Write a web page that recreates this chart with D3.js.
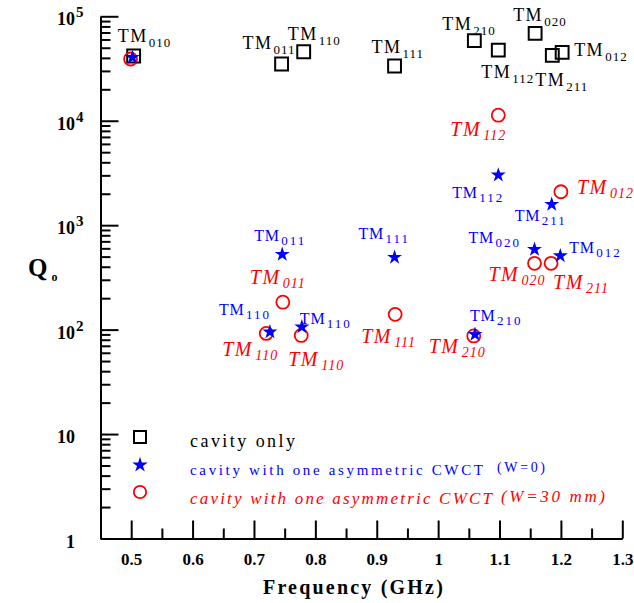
<!DOCTYPE html>
<html>
<head>
<meta charset="utf-8">
<script src="https://cdn.jsdelivr.net/npm/d3@7"></script>
<style>
  body { margin: 0; background: #fff; }
  svg text { font-family: "Liberation Serif", "Times New Roman", Times, serif; }
</style>
</head>
<body>
<div id="chart"></div>
<script>
// cavity only
const cavityModes = ["010", "011", "110", "111", "210", "112", "020", "211", "012"];
const cavityFreq = [0.504, 0.745, 0.781, 0.929, 1.059, 1.098, 1.158, 1.186, 1.202];
const cavityQ = [41700, 34900, 45800, 33400, 58400, 47500, 68700, 42300, 45200];

// cavity with one asymmetric CWCT, W = 0
const w0Modes = ["010", "011", "110", "110", "111", "210", "112", "020", "211", "012"];
const w0Freq = [0.502, 0.746, 0.726, 0.778, 0.929, 1.060, 1.098, 1.157, 1.185, 1.199];
const w0Q = [40400, 525, 95, 106, 492, 90, 3020, 586, 1580, 509];

// cavity with one asymmetric CWCT, W = 30 mm
const w30Modes = ["010", "011", "110", "110", "111", "210", "112", "020", "211", "012"];
const w30Freq = [0.499, 0.747, 0.720, 0.777, 0.930, 1.058, 1.098, 1.157, 1.184, 1.200];
const w30Q = [39000, 183, 92, 88, 140, 87, 11300, 431, 431, 2090];

const xTicks = [0.5, 0.6, 0.7, 0.8, 0.9, 1.0, 1.1, 1.2, 1.3];
const yDecades = [1, 10, 100, 1000, 10000, 100000];
const yTickText = [["1", ""], ["10", ""], ["10", "2"], ["10", "3"], ["10", "4"], ["10", "5"]];

const legendText = ["cavity only", "cavity with one asymmetric CWCT", "cavity with one asymmetric CWCT"];
const legendNote = ["", "(W=0)", "(W=30 mm)"];

// where each mode label sits, relative to its marker (px): [dx, dy]
const cavityLabelPos = [[-16, -14], [-39, -15], [-16, -12], [-23, -13], [-32, -11], [-17, 28], [-22, -12], [-17, 31], [12, 4]];
const w0LabelPos = [null, [-28, -13], [-51, -17], [-2, -3], [-36, -18], [-5, -13], [-46, 23], [-66, -6], [-37, 17], [9, -3]];
const w30LabelPos = [null, [-33, -18], [-44, 23], [-13, 31], [-34, 29], [-45, 17], [-48, 21], [-46, 18], [2, 26], [16, 2]];

const FONT = "Liberation Serif, Times New Roman, serif";
const W = 634, H = 603;
const svg = d3.select("#chart").append("svg").attr("width", W).attr("height", H)
    .attr("font-family", FONT);

const x = d3.scaleLinear().domain([0.45, 1.3]).range([100.5, 622.3]);
const y = d3.scaleLog().domain([1, 1e5]).range([538.5, 16.3]);

// x axis, ticks pointing up
const xMinor = d3.range(0.55, 1.3, 0.1);
svg.append("g")
    .attr("transform", `translate(0,${y(1)})`)
    .call(d3.axisBottom(x).tickValues(xMinor).tickSize(-10).tickFormat(""))
    .call(g => g.select(".domain").remove());
const xAxis = svg.append("g")
    .attr("transform", `translate(0,${y(1)})`)
    .call(d3.axisBottom(x).tickValues(xTicks).tickSizeInner(-18).tickSizeOuter(0).tickPadding(14)
        .tickFormat(d => String(+d.toFixed(2))));
xAxis.attr("font-family", FONT);
xAxis.selectAll("text")
    .attr("font-size", 17).attr("font-weight", "bold").attr("fill", "#000");

// y axis, ticks pointing right
const yMinor = [];
yDecades.slice(0, -1).forEach(d => { for (let k = 2; k <= 9; k++) yMinor.push(d * k); });
svg.append("g")
    .attr("transform", `translate(${x(0.45)},0)`)
    .call(d3.axisLeft(y).tickValues(yMinor).tickSize(-10).tickFormat(""))
    .call(g => g.select(".domain").remove());
svg.append("g")
    .attr("transform", `translate(${x(0.45)},0)`)
    .call(d3.axisLeft(y).tickValues(yDecades).tickSizeInner(-18).tickSizeOuter(0).tickFormat(""));

svg.selectAll(".domain, .tick line").attr("stroke", "#000").attr("stroke-width", 2);

const yLab = svg.append("g").selectAll("text")
    .data(yDecades)
    .join("text")
    .attr("x", 75)
    .attr("y", d => y(d) + 9)
    .attr("font-size", 18).attr("font-weight", "bold");
yLab.append("tspan")
    .attr("text-anchor", "end")
    .text((d, i) => yTickText[i][0]);
yLab.append("tspan")
    .attr("x", 76)
    .attr("dy", -8)
    .attr("font-size", 15)
    .text((d, i) => yTickText[i][1]);

// axis titles
const qLab = svg.append("text").attr("x", 28).attr("y", 276).attr("font-weight", "bold");
qLab.append("tspan").attr("font-size", 25).text("Q");
qLab.append("tspan").attr("font-size", 12).attr("dx", 4).attr("dy", 5).text("o");

svg.append("text")
    .attr("x", 354).attr("y", 594)
    .attr("text-anchor", "middle")
    .attr("font-size", 20).attr("font-weight", "bold")
    .attr("letter-spacing", 2.2)
    .text("Frequency (GHz)");

// markers
const toPoints = (modes, freq, q) => modes.map((m, i) => ({ mode: m, f: freq[i], q: q[i] }));
const cavity = toPoints(cavityModes, cavityFreq, cavityQ);
const w0 = toPoints(w0Modes, w0Freq, w0Q);
const w30 = toPoints(w30Modes, w30Freq, w30Q);

svg.append("g").selectAll("path")
    .data(cavity)
    .join("path")
    .attr("transform", d => `translate(${x(d.f)},${y(d.q)})`)
    .attr("d", d3.symbol(d3.symbolSquare, 165))
    .attr("fill", "none").attr("stroke", "#000").attr("stroke-width", 2);

svg.append("g").selectAll("circle")
    .data(w30)
    .join("circle")
    .attr("cx", d => x(d.f)).attr("cy", d => y(d.q))
    .attr("r", 6.5)
    .attr("fill", "none").attr("stroke", "#ff0000").attr("stroke-width", 1.8);

svg.append("g").selectAll("path")
    .data(w0)
    .join("path")
    .attr("transform", d => `translate(${x(d.f)},${y(d.q)})`)
    .attr("d", d3.symbol(d3.symbolStar, 70))
    .attr("fill", "#0000ff");

// mode labels
const addLabels = (points, offsets, style) => {
  points.forEach((d, i) => {
    const o = offsets[i];
    if (!o) return;
    const lx = x(d.f) + o[0], ly = y(d.q) + o[1];
    const t = svg.append("text")
        .attr("x", lx).attr("y", ly)
        .attr("fill", style.color)
        .attr("font-style", style.italic ? "italic" : "normal");
    t.append("tspan")
        .attr("font-size", style.size)
        .attr("letter-spacing", style.spacing)
        .text("TM");
    t.append("tspan")
        .attr("x", lx + style.subDx)
        .attr("y", ly + style.subDy)
        .attr("font-size", style.subSize)
        .attr("letter-spacing", style.subSpacing)
        .text(d.mode);
  });
};
addLabels(cavity, cavityLabelPos, { color: "#000", size: 18, spacing: 1.5, subSize: 13, subSpacing: 1, subDx: 31, subDy: 5 });
addLabels(w0, w0LabelPos, { color: "#0000ff", size: 16, spacing: 0.8, subSize: 13, subSpacing: 2, subDx: 27, subDy: 4 });
addLabels(w30, w30LabelPos, { color: "#ff0000", italic: true, size: 20, spacing: 1.5, subSize: 14, subSpacing: 1, subDx: 33, subDy: 4 });

// legend
const legendY = [437, 465, 492];
const legend = svg.append("g");
legend.append("path")
    .attr("transform", `translate(140,${legendY[0]})`)
    .attr("d", d3.symbol(d3.symbolSquare, 144))
    .attr("fill", "none").attr("stroke", "#000").attr("stroke-width", 2);
legend.append("path")
    .attr("transform", `translate(140,${legendY[1]})`)
    .attr("d", d3.symbol(d3.symbolStar, 75))
    .attr("fill", "#0000ff");
legend.append("circle")
    .attr("cx", 140).attr("cy", legendY[2]).attr("r", 6.2)
    .attr("fill", "none").attr("stroke", "#ff0000").attr("stroke-width", 1.8);

legend.append("text")
    .attr("x", 190).attr("y", 447)
    .attr("font-size", 18)
    .attr("textLength", 105).attr("lengthAdjust", "spacing")
    .text(legendText[0]);
legend.append("text")
    .attr("x", 190).attr("y", 475)
    .attr("font-size", 15).attr("fill", "#0000ff")
    .attr("textLength", 293).attr("lengthAdjust", "spacing")
    .text(legendText[1]);
legend.append("text")
    .attr("x", 497).attr("y", 472)
    .attr("font-size", 14).attr("fill", "#0000ff")
    .attr("textLength", 48).attr("lengthAdjust", "spacing")
    .text(legendNote[1]);
legend.append("text")
    .attr("x", 190).attr("y", 504)
    .attr("font-size", 17).attr("font-style", "italic").attr("fill", "#ff0000")
    .attr("textLength", 302).attr("lengthAdjust", "spacing")
    .text(legendText[2]);
legend.append("text")
    .attr("x", 501).attr("y", 502)
    .attr("font-size", 17).attr("font-style", "italic").attr("fill", "#ff0000")
    .attr("textLength", 104).attr("lengthAdjust", "spacing")
    .text(legendNote[2]);
</script>
</body>
</html>
